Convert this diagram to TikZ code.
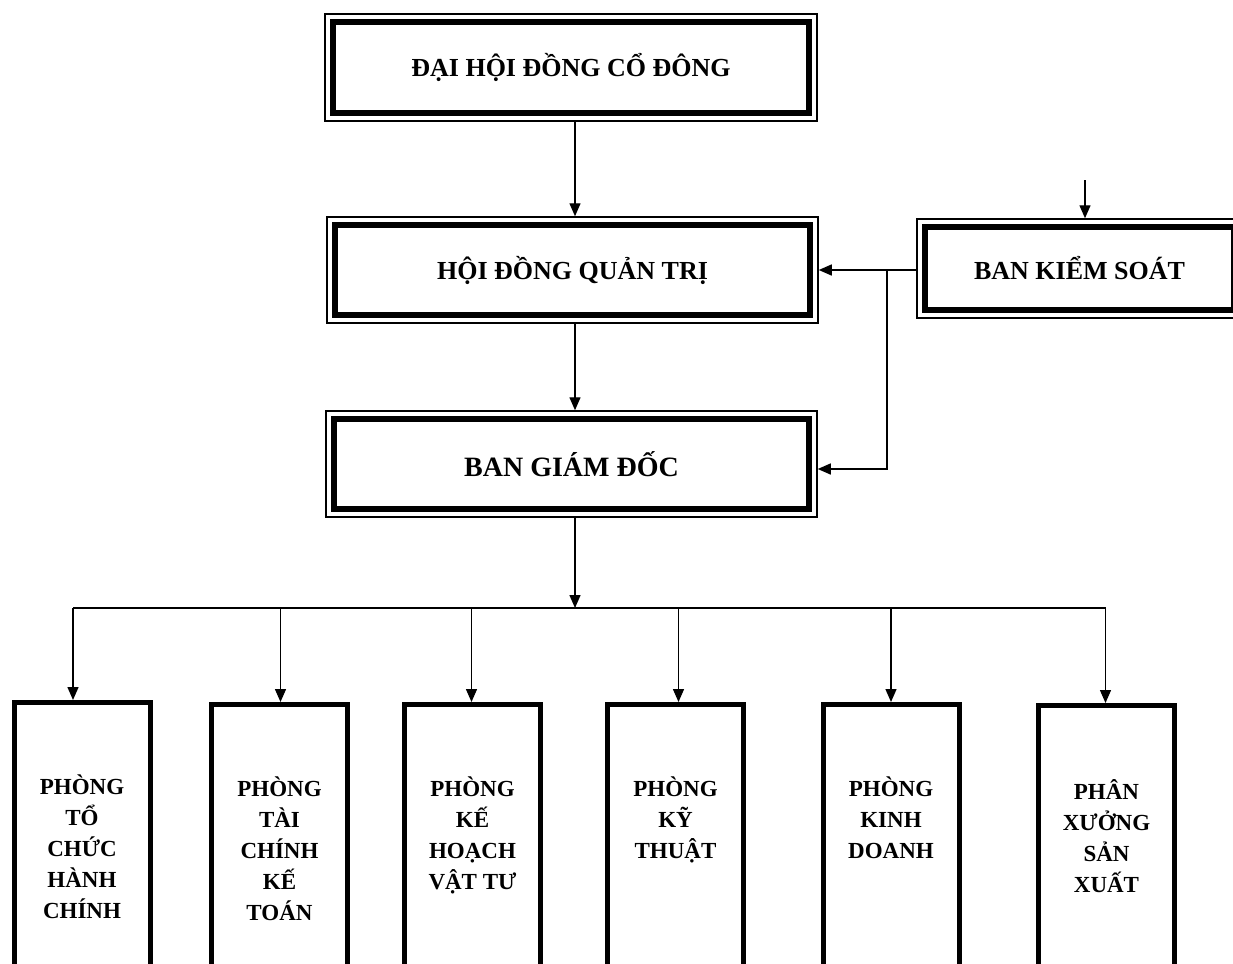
\documentclass[tikz,border=0pt]{standalone}
\usepackage{fontspec}
\setmainfont{Liberation Serif}
\usetikzlibrary{arrows.meta,positioning}

\tikzset{
  frame/.style={draw, line width=0.75pt, inner sep=0pt,
    font=\bfseries\fontsize{13}{15}\selectfont,
    path picture={\draw[line width=3.3pt]
      ([shift={(4pt,-4pt)}]path picture bounding box.north west) rectangle
      ([shift={(-4pt,4pt)}]path picture bounding box.south east);}},
  dept/.style={draw, line width=2.5pt, minimum width=68pt, minimum height=200pt, anchor=north},
  deptlabel/.style={align=center, inner sep=0pt, font=\bfseries\fontsize{11.5}{15.5}\selectfont},
  conn/.style={line width=0.7pt},
  arr/.style={conn, -{Triangle[length=6.5pt,width=5.5pt]}}
}

\begin{document}
\begin{tikzpicture}[x=0.5pt,y=-0.5pt]
  \clip (0,0) rectangle (1233,964);
  % upper levels
  \node[frame, minimum width=246pt, minimum height=53.5pt] (dhd) at (571,67.5) {ĐẠI HỘI ĐỒNG CỔ ĐÔNG};
  \node[frame, minimum width=245.5pt, minimum height=53pt] (hdqt) at (572.5,270) {HỘI ĐỒNG QUẢN TRỊ};
  \node[frame, minimum width=162.5pt, minimum height=49.5pt] (bks) at (1079.5,268.5) {BAN KIỂM SOÁT};
  \node[frame, minimum width=245.5pt, minimum height=53pt, font=\bfseries\fontsize{14}{16}\selectfont] (bgd) at (571.5,464) {BAN GIÁM ĐỐC};

  % departments
  \node[dept] (p1) at (82,700) {};
  \node[dept] (p2) at (279.5,702) {};
  \node[dept] (p3) at (472.5,702) {};
  \node[dept] (p4) at (675.5,702) {};
  \node[dept] (p5) at (891,702) {};
  \node[dept] (p6) at (1106.5,703) {};
  \node[deptlabel, below=37pt of p1.north] (t1) {PHÒNG\\TỔ\\CHỨC\\HÀNH\\CHÍNH};
  \node[deptlabel, below=37pt of p2.north] (t2) {PHÒNG\\TÀI\\CHÍNH\\KẾ\\TOÁN};
  \node[deptlabel, below=37pt of p3.north] (t3) {PHÒNG\\KẾ\\HOẠCH\\VẬT TƯ};
  \node[deptlabel, below=37pt of p4.north] (t4) {PHÒNG\\KỸ\\THUẬT};
  \node[deptlabel, below=37pt of p5.north] (t5) {PHÒNG\\KINH\\DOANH};
  \node[deptlabel, below=38pt of p6.north] (t6) {PHÂN\\XƯỞNG\\SẢN\\XUẤT};

  % connectors
  \coordinate (mid) at (575,0);
  \coordinate (j) at (887,0);
  \coordinate (bus) at (0,608);
  \coordinate (src) at (1085,180);
  \draw[arr] (dhd.south -| mid) -- (hdqt.north -| mid);
  \draw[arr] (src) -- (bks.north -| src);
  \draw[arr] (bks.west |- hdqt.east) -- (hdqt.east);
  \draw[arr] (j |- hdqt.east) |- ([yshift=-2.5pt]bgd.east);
  \draw[arr] (hdqt.south -| mid) -- (bgd.north -| mid);
  \draw[arr] (bgd.south -| mid) -- (bus -| mid);
  \draw[conn] ([xshift=-4.5pt]p1.north |- bus) -- ([xshift=-0.5pt]p6.north |- bus);
  \foreach \p/\dx in {p1/-4.5,p2/0.5,p3/-0.5,p4/1.5,p5/0,p6/-0.5}
    \draw[arr] ([xshift=\dx pt]\p.north |- bus) -- ([xshift=\dx pt]\p.north);
\end{tikzpicture}
\end{document}
